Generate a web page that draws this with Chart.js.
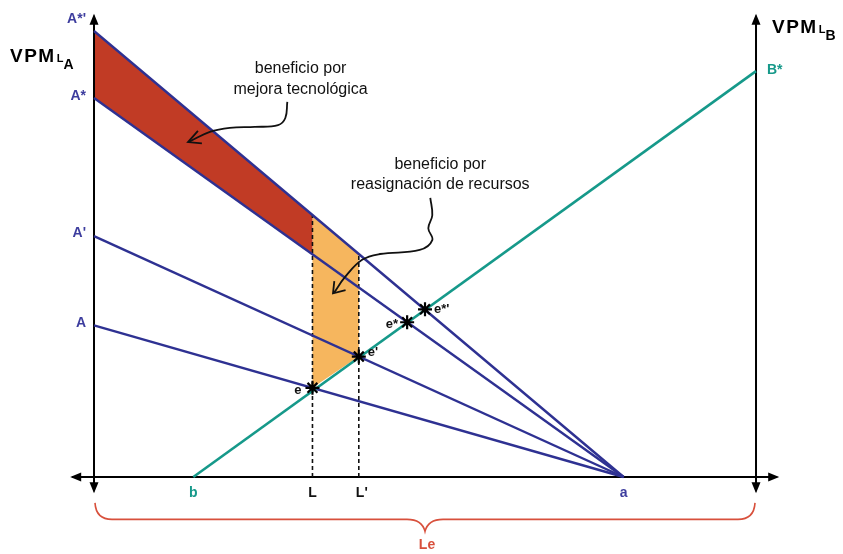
<!DOCTYPE html>
<html>
<head>
<meta charset="utf-8">
<script src="https://cdn.jsdelivr.net/npm/chart.js@4/dist/chart.umd.min.js"></script>
<style>
  body { margin: 0; background: #fff; }
  canvas { display: block; }
</style>
</head>
<body>
<canvas id="grafico" width="843" height="554"></canvas>
<script>
// marcas del eje horizontal (L)
const marcasX = ['b', 'L', "L'", 'a'];
const valoresX = [15, 33, 40, 80];
const largoLe = 100;

// ordenadas en el origen de las rectas VPM_LA
const etiquetasA = ["A*'", 'A*', "A'", 'A'];
const valoresA = [100, 85, 54, 34];

// recta VPM_LB
const etiquetaB = 'B*';
const valorB = 91;

// equilibrios
const puntosE = ['e', "e'", 'e*', "e*'"];
const equilibrioX = [33, 40, 47.3, 50];
const equilibrioY = [20, 27, 34.7, 37.6];

// zonas de beneficio
const zonaRoja = [[0, 100], [33, 58.8], [33, 49.9], [0, 85]];
const zonaNaranja = [[33, 58.8], [40, 50], [40, 27], [33, 20]];
const alturaL = [58.8, 50];

// flechas de las notas
const flechaTecno = [[29.2, 84.1], [28.9, 80.5], [27.8, 78.9], [24.3, 78.5], [20.5, 78.3], [17.5, 77.4], [14.4, 75.2]];
const puntaTecno = [[15.7, 77.6], [14.2, 75.1], [16.3, 74.8]];
const flechaRecursos = [[50.8, 62.6], [51.1, 58.7], [50.5, 55.8], [51.1, 53.1], [49.2, 50.9], [43.2, 50.0], [40.5, 48.7], [37.9, 44.8], [36.3, 41.4]];
const puntaRecursos = [[36.3, 43.9], [36.1, 41.2], [38.0, 41.9]];

const azul = '#2e3192';
const azulTexto = '#3d3d9e';
const verde = '#16998a';

const aPuntos = arr => arr.map(p => ({ x: p[0], y: p[1] }));

const datasets = [];

datasets.push({ data: aPuntos(zonaRoja), showLine: true, fill: 'shape', backgroundColor: '#c13b25', borderWidth: 0, pointRadius: 0, order: 20 });
datasets.push({ data: aPuntos(zonaNaranja), showLine: true, fill: 'shape', backgroundColor: '#f6b65e', borderWidth: 0, pointRadius: 0, order: 20 });

// ejes
datasets.push({ data: [{ x: -3.3, y: 0 }, { x: 103.2, y: 0 }], showLine: true, borderColor: '#000', borderWidth: 2, pointRadius: 0, order: 10 });
datasets.push({ data: [{ x: 0, y: -3.2 }, { x: 0, y: 103.4 }], showLine: true, borderColor: '#000', borderWidth: 2, pointRadius: 0, order: 10 });
datasets.push({ data: [{ x: largoLe, y: -3.2 }, { x: largoLe, y: 103.4 }], showLine: true, borderColor: '#000', borderWidth: 2, pointRadius: 0, order: 10 });

// guias punteadas en L y L'
valoresX.slice(1, 3).forEach((v, i) => {
  datasets.push({ data: [{ x: v, y: 0 }, { x: v, y: alturaL[i] }], showLine: true, borderColor: '#111', borderWidth: 1.6, borderDash: [4, 3], pointRadius: 0, order: 8 });
});

// rectas A
valoresA.forEach(v => {
  datasets.push({ data: [{ x: 0, y: v }, { x: valoresX[3], y: 0 }], showLine: true, borderColor: azul, borderWidth: 2.4, pointRadius: 0, order: 5 });
});

// recta B
datasets.push({ data: [{ x: valoresX[0], y: 0 }, { x: largoLe, y: valorB }], showLine: true, borderColor: verde, borderWidth: 2.6, pointRadius: 0, order: 4 });

// flechas curvas
[flechaTecno, flechaRecursos].forEach(f => {
  datasets.push({ data: aPuntos(f), showLine: true, tension: 0.4, borderColor: '#111', borderWidth: 1.8, pointRadius: 0, order: 2 });
});
[puntaTecno, puntaRecursos].forEach(f => {
  datasets.push({ data: aPuntos(f), showLine: true, borderColor: '#111', borderWidth: 1.8, pointRadius: 0, order: 2 });
});

// equilibrios
datasets.push({
  data: equilibrioX.map((x, i) => ({ x: x, y: equilibrioY[i] })),
  showLine: false, pointStyle: 'star', pointRadius: 7, borderColor: '#000', borderWidth: 2.2, order: 0
});

const dibujoExtra = {
  id: 'dibujoExtra',
  afterDatasetsDraw(chart) {
    const ctx = chart.ctx;
    const sx = chart.scales.x, sy = chart.scales.y;
    const px = v => sx.getPixelForValue(v);
    const py = v => sy.getPixelForValue(v);

    ctx.save();
    ctx.fillStyle = '#000';
    function flecha(x, y, dir) {
      const l = 11, w = 4.5;
      ctx.beginPath();
      if (dir === 'up') { ctx.moveTo(x, y - 2); ctx.lineTo(x - w, y + l - 2); ctx.lineTo(x + w, y + l - 2); }
      if (dir === 'down') { ctx.moveTo(x, y + 2); ctx.lineTo(x - w, y - l + 2); ctx.lineTo(x + w, y - l + 2); }
      if (dir === 'left') { ctx.moveTo(x - 2, y); ctx.lineTo(x + l - 2, y - w); ctx.lineTo(x + l - 2, y + w); }
      if (dir === 'right') { ctx.moveTo(x + 2, y); ctx.lineTo(x - l + 2, y - w); ctx.lineTo(x - l + 2, y + w); }
      ctx.closePath();
      ctx.fill();
    }
    flecha(px(0), py(103.4), 'up');
    flecha(px(0), py(-3.2), 'down');
    flecha(px(largoLe), py(103.4), 'up');
    flecha(px(largoLe), py(-3.2), 'down');
    flecha(px(-3.3), py(0), 'left');
    flecha(px(103.2), py(0), 'right');

    ctx.textBaseline = 'middle';

    // etiquetas A
    ctx.font = 'bold 14px "Liberation Sans", Arial, sans-serif';
    ctx.fillStyle = azulTexto;
    ctx.textAlign = 'right';
    etiquetasA.forEach((t, i) => {
      const dy = i === 0 ? -12 : (i === 2 ? -3 : -2);
      ctx.fillText(t, px(0) - 8, py(valoresA[i]) + dy);
    });

    // B*
    ctx.fillStyle = verde;
    ctx.textAlign = 'left';
    ctx.fillText(etiquetaB, px(largoLe) + 11, py(valorB) - 1);

    // marcas del eje x
    ctx.textAlign = 'center';
    const coloresX = [verde, '#111', '#111', azulTexto];
    marcasX.forEach((t, i) => {
      ctx.fillStyle = coloresX[i];
      ctx.fillText(t, px(valoresX[i]) + (i === 2 ? 3 : 0), py(0) + 16);
    });

    // equilibrios
    ctx.fillStyle = '#111';
    ctx.font = 'bold 13px "Liberation Sans", Arial, sans-serif';
    const desp = [[-11, 3, 'right'], [9, -4, 'left'], [-9, 2, 'right'], [9, 0, 'left']];
    puntosE.forEach((t, i) => {
      ctx.textAlign = desp[i][2];
      ctx.fillText(t, px(equilibrioX[i]) + desp[i][0], py(equilibrioY[i]) + desp[i][1]);
    });

    // titulos de ejes
    function titulo(x, y, sub) {
      ctx.textAlign = 'left';
      ctx.textBaseline = 'alphabetic';
      ctx.fillStyle = '#000';
      ctx.font = 'bold 19px "Liberation Sans", Arial, sans-serif';
      ctx.letterSpacing = '1.5px';
      ctx.fillText('VPM', x, y);
      const w = ctx.measureText('VPM').width;
      ctx.letterSpacing = '0px';
      ctx.font = 'bold 11px "Liberation Sans", Arial, sans-serif';
      ctx.fillText('L', x + w + 1, y);
      const w2 = ctx.measureText('L').width;
      ctx.font = 'bold 14px "Liberation Sans", Arial, sans-serif';
      ctx.fillText(sub, x + w + w2 + 1, y + 7);
    }
    titulo(px(0) - 84, py(93), 'A');
    titulo(px(largoLe) + 16, py(99.5), 'B');

    // notas
    ctx.textBaseline = 'middle';
    ctx.textAlign = 'center';
    ctx.fillStyle = '#111';
    ctx.font = '16px "Liberation Sans", Arial, sans-serif';
    ctx.fillText('beneficio por', px(31.2), py(91.5));
    ctx.fillText('mejora tecnológica', px(31.2), py(86.8));
    ctx.fillText('beneficio por', px(52.3), py(70));
    ctx.fillText('reasignación de recursos', px(52.3), py(65.5));

    // llave Le
    const xl = px(0), xr = px(largoLe), xm = (xl + xr) / 2;
    const y0 = py(-5.8), y1 = py(-9.5), y2 = py(-12.2);
    ctx.strokeStyle = '#d8503c';
    ctx.lineWidth = 1.6;
    ctx.beginPath();
    ctx.moveTo(xl + 1, y0);
    ctx.quadraticCurveTo(xl + 2, y1, xl + 18, y1);
    ctx.lineTo(xm - 18, y1);
    ctx.quadraticCurveTo(xm - 3, y1, xm, y2);
    ctx.quadraticCurveTo(xm + 3, y1, xm + 18, y1);
    ctx.lineTo(xr - 18, y1);
    ctx.quadraticCurveTo(xr - 2, y1, xr - 1, y0);
    ctx.stroke();
    ctx.fillStyle = '#d8503c';
    ctx.font = 'bold 14px "Liberation Sans", Arial, sans-serif';
    ctx.fillText('Le', xm + 2, py(-15.3));

    ctx.restore();
  }
};

new Chart(document.getElementById('grafico'), {
  type: 'scatter',
  data: { datasets: datasets },
  options: {
    responsive: false,
    animation: false,
    events: [],
    layout: { padding: 0, autoPadding: false },
    plugins: { legend: { display: false }, tooltip: { enabled: false } },
    scales: {
      x: { type: 'linear', display: false, min: -14.2, max: 113.14 },
      y: { type: 'linear', display: false, min: -17.26, max: 106.95 }
    }
  },
  plugins: [dibujoExtra]
});
</script>
</body>
</html>
